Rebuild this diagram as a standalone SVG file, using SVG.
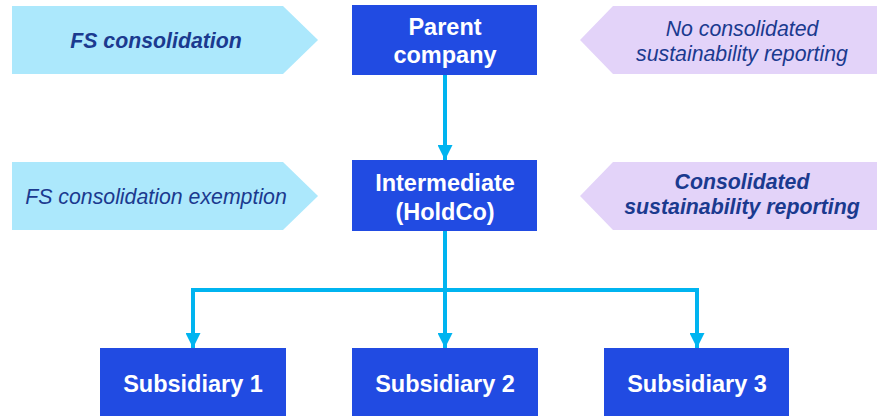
<svg xmlns="http://www.w3.org/2000/svg" width="877" height="416" viewBox="0 0 877 416">
  <defs>
    <style>
      .box { fill: #214BE2; }
      .box-text { fill: #FFFFFF; font-family: "Liberation Sans", Arial, sans-serif; font-weight: bold; font-size: 23.5px; text-anchor: middle; }
      .fs { fill: #ACE8FC; }
      .sr { fill: #E3D3F9; }
      .note { fill: #1B3A8F; font-family: "Liberation Sans", Arial, sans-serif; font-style: italic; font-size: 21.3px; text-anchor: middle; }
      .note.strong { font-weight: bold; }
      .link { fill: none; stroke: #00B4F0; stroke-width: 4; }
    </style>
    <marker id="head" viewBox="0 0 10 10" refX="10" refY="5" markerWidth="15" markerHeight="15" markerUnits="userSpaceOnUse" orient="auto">
      <path d="M0,0 L10,5 L0,10 Z" fill="#00B4F0"/>
    </marker>
  </defs>

  <!-- Side banners: financial statements (left) and sustainability reporting (right) -->
  <g id="fs-consolidation">
    <polygon class="fs" points="12,6 283,6 318,40 283,74 12,74"/>
    <text class="note strong" x="156" y="48">FS consolidation</text>
  </g>
  <g id="fs-exemption">
    <polygon class="fs" points="12,162 283,162 318,196 283,230 12,230"/>
    <text class="note" x="156" y="204">FS consolidation exemption</text>
  </g>
  <g id="no-consolidated-sr">
    <polygon class="sr" points="877,6 613,6 580,40 613,74 877,74"/>
    <text class="note" x="742" y="36">No consolidated</text>
    <text class="note" x="742" y="61">sustainability reporting</text>
  </g>
  <g id="consolidated-sr">
    <polygon class="sr" points="877,162 613,162 580,196 613,230 877,230"/>
    <text class="note strong" x="742" y="189">Consolidated</text>
    <text class="note strong" x="742" y="214">sustainability reporting</text>
  </g>

  <!-- Group entities -->
  <g id="parent">
    <rect class="box" x="352" y="5" width="185" height="70"/>
    <text class="box-text" x="445" y="35">Parent</text>
    <text class="box-text" x="445" y="63">company</text>
  </g>
  <g id="intermediate">
    <rect class="box" x="352" y="160" width="185" height="71"/>
    <text class="box-text" x="445" y="191">Intermediate</text>
    <text class="box-text" x="445" y="220">(HoldCo)</text>
  </g>
  <g id="subsidiary-1">
    <rect class="box" x="100" y="348" width="186" height="68"/>
    <text class="box-text" x="193" y="392">Subsidiary 1</text>
  </g>
  <g id="subsidiary-2">
    <rect class="box" x="352" y="348" width="186" height="68"/>
    <text class="box-text" x="445" y="392">Subsidiary 2</text>
  </g>
  <g id="subsidiary-3">
    <rect class="box" x="604" y="348" width="185" height="68"/>
    <text class="box-text" x="697" y="392">Subsidiary 3</text>
  </g>

  <!-- Ownership connectors -->
  <g id="connectors">
    <path class="link" d="M445,75 V160" marker-end="url(#head)"/>
    <path class="link" d="M445,231 V348" marker-end="url(#head)"/>
    <path class="link" d="M445,290 H193 V348" marker-end="url(#head)"/>
    <path class="link" d="M445,290 H697 V348" marker-end="url(#head)"/>
  </g>
</svg>
